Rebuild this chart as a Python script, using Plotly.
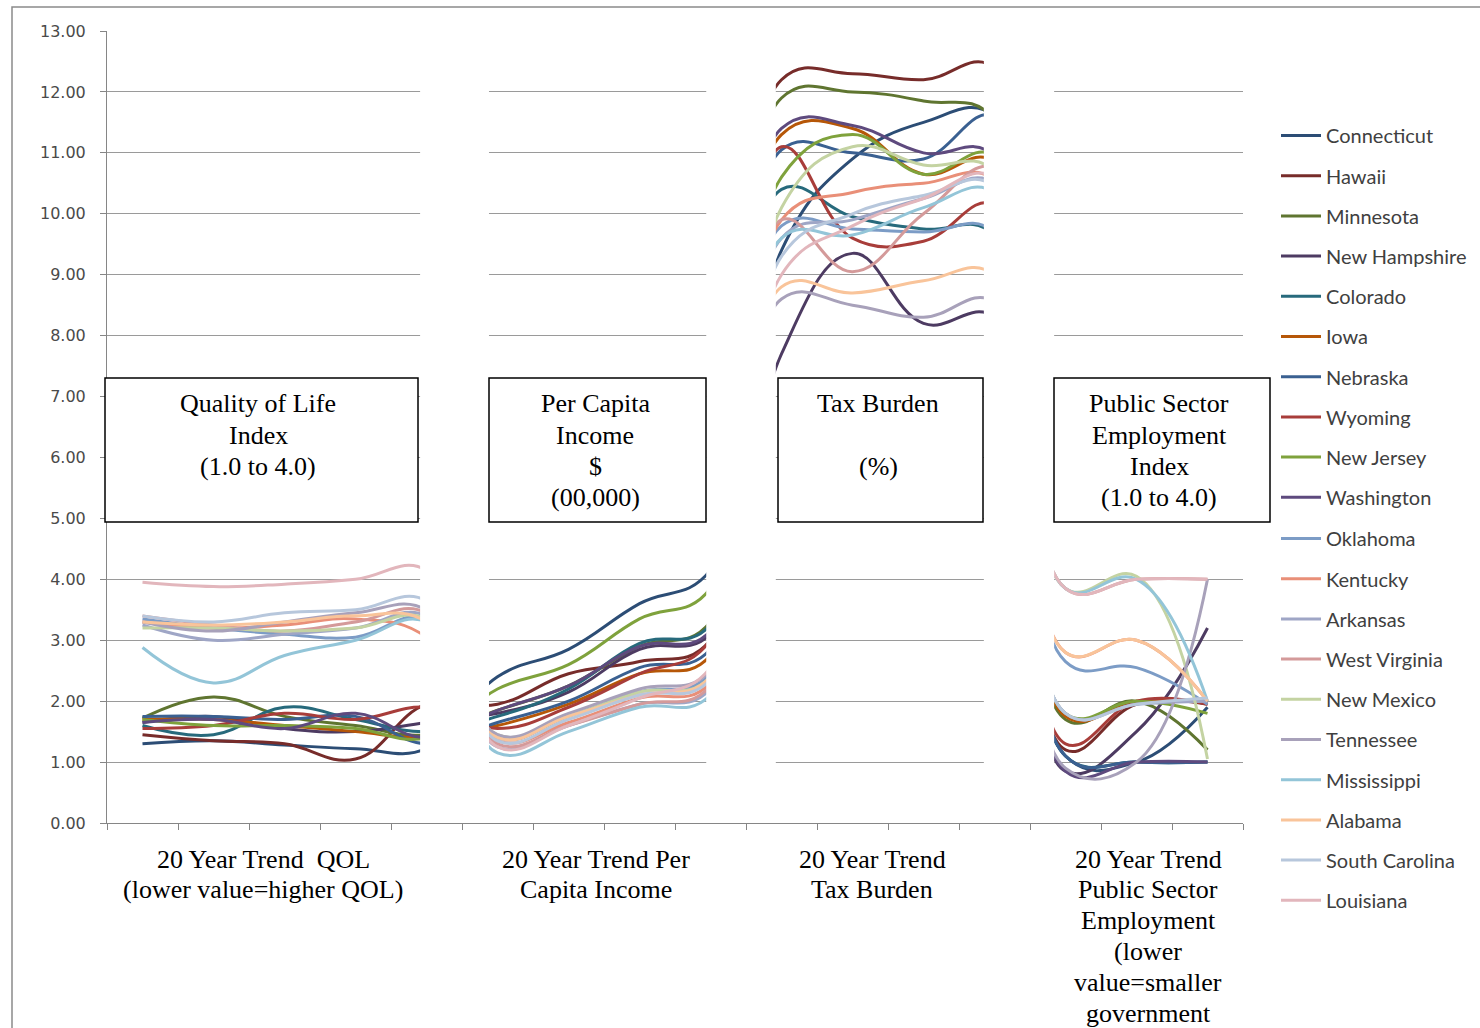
import plotly.graph_objects as go

# ---- data -------------------------------------------------------------
states = [
    "Connecticut", "Hawaii", "Minnesota", "New Hampshire", "Colorado", "Iowa",
    "Nebraska", "Wyoming", "New Jersey", "Washington", "Oklahoma", "Kentucky",
    "Arkansas", "West Virginia", "New Mexico", "Tennessee", "Mississippi",
    "Alabama", "South Carolina", "Louisiana",
]

# Quality of Life index, five readings over 20 years
qol = {
    "Connecticut":    [1.30, 1.35, 1.28, 1.22, 1.22],
    "Hawaii":         [1.45, 1.35, 1.30, 1.05, 1.95],
    "Minnesota":      [1.72, 2.07, 1.75, 1.60, 1.45],
    "New Hampshire":  [1.65, 1.75, 1.55, 1.50, 1.65],
    "Colorado":       [1.60, 1.45, 1.90, 1.70, 1.50],
    "Iowa":           [1.70, 1.70, 1.60, 1.50, 1.40],
    "Nebraska":       [1.75, 1.75, 1.70, 1.75, 1.30],
    "Wyoming":        [1.55, 1.60, 1.80, 1.70, 1.90],
    "New Jersey":     [1.70, 1.60, 1.60, 1.55, 1.40],
    "Washington":     [1.65, 1.70, 1.55, 1.80, 1.40],
    "Oklahoma":       [3.35, 3.20, 3.10, 3.05, 3.35],
    "Kentucky":       [3.30, 3.20, 3.25, 3.35, 3.05],
    "Arkansas":       [3.25, 3.00, 3.10, 3.20, 3.40],
    "West Virginia":  [3.40, 3.25, 3.15, 3.30, 3.45],
    "New Mexico":     [3.20, 3.20, 3.15, 3.20, 3.35],
    "Tennessee":      [3.30, 3.15, 3.30, 3.45, 3.50],
    "Mississippi":    [2.88, 2.30, 2.75, 3.00, 3.30],
    "Alabama":        [3.30, 3.25, 3.30, 3.40, 3.30],
    "South Carolina": [3.40, 3.30, 3.45, 3.50, 3.65],
    "Louisiana":      [3.95, 3.88, 3.92, 4.00, 4.15],
}

# Per capita income ($00,000), four readings
income = {
    "Connecticut":    [2.40, 2.85, 3.60, 4.15],
    "Hawaii":         [1.95, 2.45, 2.65, 3.00],
    "Minnesota":      [1.85, 2.25, 2.90, 3.30],
    "New Hampshire":  [1.80, 2.15, 2.85, 3.10],
    "Colorado":       [1.75, 2.20, 2.95, 3.25],
    "Iowa":           [1.60, 1.95, 2.45, 2.75],
    "Nebraska":       [1.65, 2.00, 2.55, 2.85],
    "Wyoming":        [1.55, 1.90, 2.45, 3.00],
    "New Jersey":     [2.20, 2.60, 3.35, 3.85],
    "Washington":     [1.85, 2.25, 2.90, 3.15],
    "Oklahoma":       [1.40, 1.75, 2.15, 2.45],
    "Kentucky":       [1.35, 1.65, 2.05, 2.30],
    "Arkansas":       [1.25, 1.60, 1.95, 2.20],
    "West Virginia":  [1.30, 1.60, 1.95, 2.25],
    "New Mexico":     [1.45, 1.75, 2.15, 2.40],
    "Tennessee":      [1.45, 1.80, 2.20, 2.50],
    "Mississippi":    [1.15, 1.50, 1.90, 2.10],
    "Alabama":        [1.40, 1.75, 2.10, 2.40],
    "South Carolina": [1.35, 1.70, 2.10, 2.35],
    "Louisiana":      [1.25, 1.60, 2.05, 2.55],
}

# Tax burden (%), four readings
tax = {
    "Connecticut":    [9.40, 10.90, 11.50, 11.60],
    "Hawaii":         [12.20, 12.30, 12.20, 12.40],
    "Minnesota":      [11.90, 12.00, 11.85, 11.55],
    "New Hampshire":  [7.70, 9.35, 8.20, 8.30],
    "Colorado":       [10.40, 9.95, 9.75, 9.65],
    "Iowa":           [11.30, 11.40, 10.65, 10.85],
    "Nebraska":       [11.05, 11.00, 10.90, 11.60],
    "Wyoming":        [11.10, 9.60, 9.55, 10.15],
    "New Jersey":     [10.60, 11.30, 10.65, 10.95],
    "Washington":     [11.40, 11.45, 11.00, 10.95],
    "Oklahoma":       [9.80, 9.75, 9.70, 9.70],
    "Kentucky":       [9.90, 10.35, 10.50, 10.55],
    "Arkansas":       [9.60, 9.90, 10.25, 10.50],
    "West Virginia":  [9.90, 9.05, 10.00, 10.75],
    "New Mexico":     [10.10, 11.10, 10.80, 10.70],
    "Tennessee":      [8.60, 8.50, 8.30, 8.55],
    "Mississippi":    [9.60, 9.65, 10.10, 10.35],
    "Alabama":        [8.80, 8.70, 8.90, 9.00],
    "South Carolina": [9.30, 10.00, 10.30, 10.45],
    "Louisiana":      [9.00, 9.80, 10.25, 10.60],
}

# Public sector employment index, three readings
public = {
    "Connecticut":    [1.10, 1.00, 1.90],
    "Hawaii":         [1.20, 1.95, 1.95],
    "Minnesota":      [1.70, 2.00, 1.20],
    "New Hampshire":  [0.85, 1.50, 3.20],
    "Colorado":       [1.10, 1.00, 1.00],
    "Iowa":           [1.75, 2.00, 2.00],
    "Nebraska":       [1.10, 1.00, 1.00],
    "Wyoming":        [1.30, 2.00, 1.95],
    "New Jersey":     [1.80, 2.00, 1.80],
    "Washington":     [0.85, 1.00, 1.00],
    "Oklahoma":       [2.65, 2.55, 1.95],
    "Kentucky":       [2.80, 3.00, 2.00],
    "Arkansas":       [1.80, 1.95, 2.00],
    "West Virginia":  [3.85, 4.00, 4.00],
    "New Mexico":     [3.85, 4.05, 1.05],
    "Tennessee":      [0.90, 1.00, 4.00],
    "Mississippi":    [3.85, 4.00, 2.00],
    "Alabama":        [2.80, 3.00, 2.00],
    "South Carolina": [1.80, 1.95, 2.05],
    "Louisiana":      [3.85, 4.00, 4.00],
}

colors = {
    "Connecticut": "#2C4D75", "Hawaii": "#772C2A", "Minnesota": "#5F7530",
    "New Hampshire": "#4D3B62", "Colorado": "#276A7C", "Iowa": "#B65708",
    "Nebraska": "#3A6091", "Wyoming": "#A83D3A", "New Jersey": "#7FA23C",
    "Washington": "#5E4A7E", "Oklahoma": "#7C9CC6", "Kentucky": "#E98F78",
    "Arkansas": "#9FA6C6", "West Virginia": "#D49A9A", "New Mexico": "#C4D3A2",
    "Tennessee": "#A8A1BA", "Mississippi": "#93C5D8", "Alabama": "#F9C49A",
    "South Carolina": "#B7C7DC", "Louisiana": "#E2B6BC",
}

y_ticks = list(range(0, 14))

box_titles = [
    ["Quality of Life", "Index", "(1.0 to 4.0)"],
    ["Per Capita", "Income", "$", "(00,000)"],
    ["Tax Burden", "", "(%)"],
    ["Public Sector", "Employment", "Index", "(1.0 to 4.0)"],
]
group_captions = [
    ["20 Year Trend  QOL", "(lower value=higher QOL)"],
    ["20 Year Trend Per", "Capita Income"],
    ["20 Year Trend", "Tax Burden"],
    ["20 Year Trend", "Public Sector", "Employment", "(lower",
     "value=smaller", "government"],
]

# ---- layout helpers (pixel -> paper) ----------------------------------
W, H = 1480, 1028
PL, PR, PT, PB = 107, 1243, 31, 823


def px(x):
    return (x - PL) / (PR - PL)


def py(y):
    return (PB - y) / (PB - PT)


n_cat = 16
cats = list(range(n_cat))

fig = go.Figure()
for i, s in enumerate(states):
    vals = qol[s] + income[s] + tax[s] + public[s]
    fig.add_trace(go.Scatter(
        x=cats, y=vals, mode="lines", name=s, legendgroup=s,
        legend="legend" if i < 10 else "legend2",
        line=dict(color=colors[s], width=3, shape="spline", smoothing=1.2),
        hoverinfo="name+y",
    ))

shapes = []
# white separators between the four panels
for x0, x1 in [(3.91, 4.88), (7.94, 8.92), (11.85, 12.84)]:
    shapes.append(dict(type="rect", xref="x", yref="y", x0=x0, x1=x1,
                       y0=0.03, y1=13.6, fillcolor="white",
                       line=dict(width=0), layer="above"))

# outer chart frame
shapes.append(dict(type="rect", xref="paper", yref="paper",
                   x0=px(12), x1=px(1490), y0=py(1040), y1=py(7),
                   line=dict(color="#8A8A8A", width=1.5),
                   fillcolor="rgba(0,0,0,0)", layer="above"))

serif = dict(family="Liberation Serif", size=26, color="black")
annotations = []

# panel title boxes
box_pos = [(105, 418, 258), (489, 706, 595), (778, 983, 878),
           (1054, 1270, 1159)]
for (bx0, bx1, cx), lines in zip(box_pos, box_titles):
    shapes.append(dict(type="rect", xref="paper", yref="paper",
                       x0=px(bx0), x1=px(bx1), y0=py(522), y1=py(378),
                       fillcolor="white", line=dict(color="black", width=1.5),
                       layer="above"))
    for k, t in enumerate(lines):
        if not t:
            continue
        annotations.append(dict(xref="paper", yref="paper",
                                x=px(cx), y=py(404 + 31 * k),
                                xanchor="center", yanchor="middle",
                                showarrow=False, text=t, font=serif))

# category group captions under the axis
cap_x = [263, 596, 872, 1148]
for cx, lines in zip(cap_x, group_captions):
    for k, t in enumerate(lines):
        annotations.append(dict(xref="paper", yref="paper",
                                x=px(cx), y=py(859 + 30.8 * k),
                                xanchor="center", yanchor="middle",
                                showarrow=False, text=t, font=serif))

legend_style = dict(xanchor="left", yanchor="top",
                    traceorder="grouped", tracegroupgap=11.2,
                    font=dict(family="Lato", size=20, color="#404040"),
                    bgcolor="rgba(0,0,0,0)", itemwidth=40)

fig.update_layout(
    width=W, height=H,
    margin=dict(l=PL, r=W - PR, t=PT, b=H - PB, pad=0, autoexpand=False),
    paper_bgcolor="white", plot_bgcolor="white",
    shapes=shapes, annotations=annotations,
    showlegend=True,
    legend=dict(x=px(1276), y=py(116), **legend_style),
    legend2=dict(x=px(1276), y=py(519), **legend_style),
    xaxis=dict(range=[-0.5, n_cat - 0.5],
               tickvals=[i - 0.5 for i in range(n_cat + 1)],
               ticks="outside", ticklen=6, tickcolor="#868686",
               showticklabels=False, showgrid=False, zeroline=False,
               showline=True, linecolor="#868686", linewidth=1),
    yaxis=dict(range=[0, 13], tickvals=y_ticks, tickformat=".2f",
               ticks="outside", ticklen=6, tickcolor="#868686",
               ticklabelstandoff=11,
               tickfont=dict(family="DejaVu Sans", size=16, color="#4A4A4A"),
               showgrid=True, gridcolor="#9A9A9A", gridwidth=1,
               zeroline=False, showline=True, linecolor="#868686",
               linewidth=1),
)

fig.write_html("out.html")
